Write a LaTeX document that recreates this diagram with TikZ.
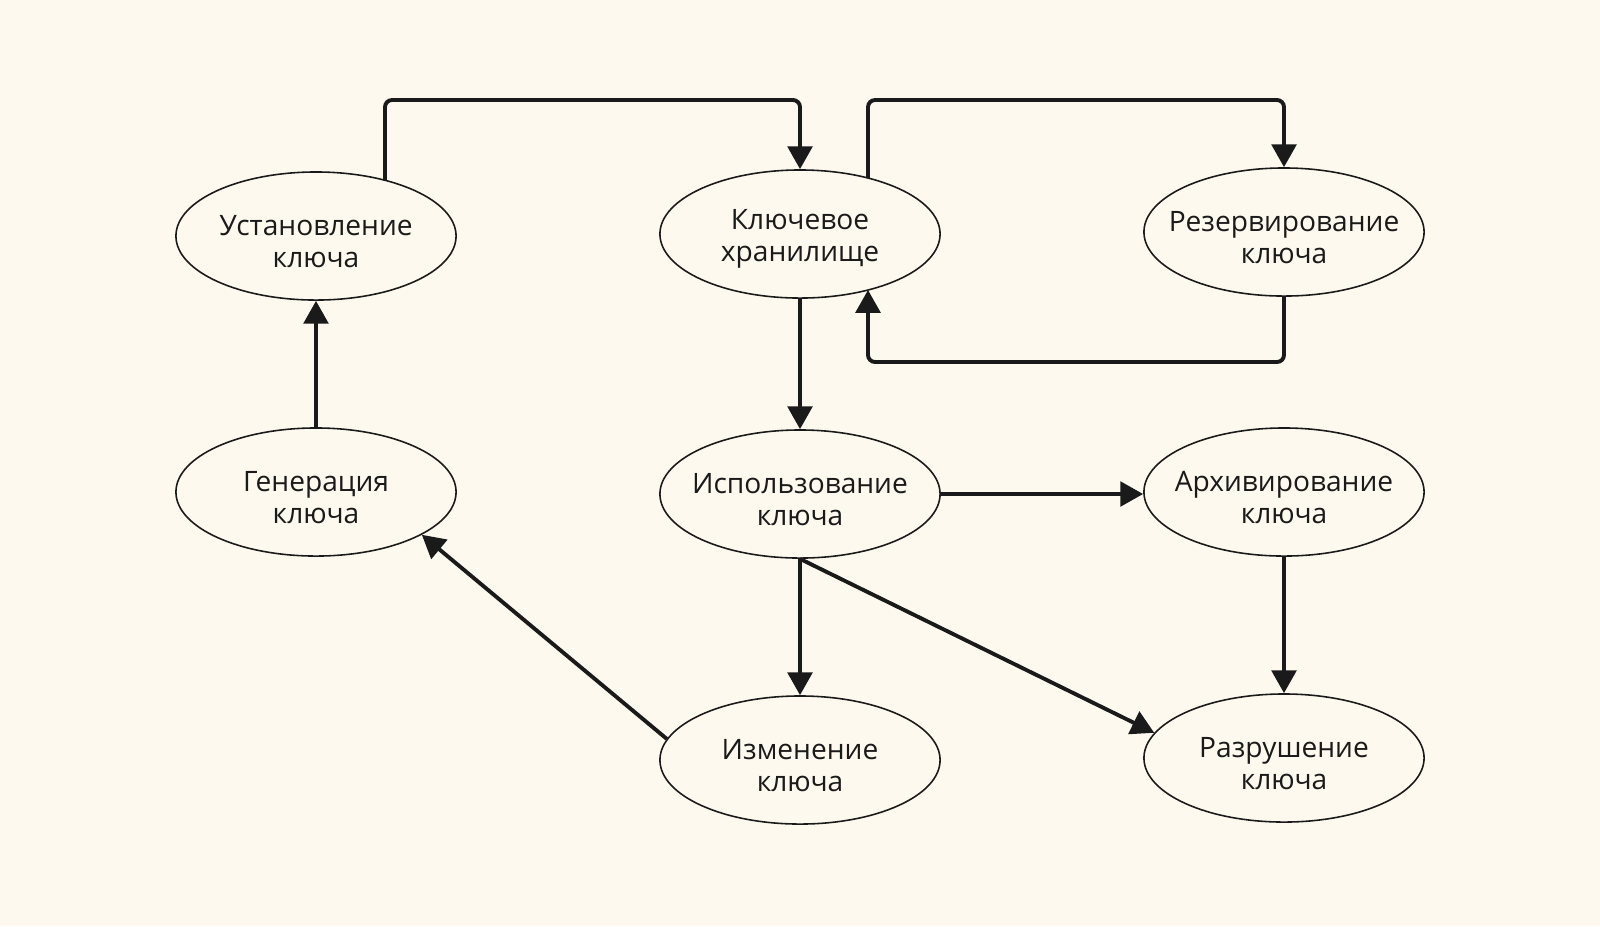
\documentclass[tikz,border=0pt]{standalone}
\usepackage{fontspec}
\setmainfont{Open Sans}
\usetikzlibrary{shapes.geometric,arrows.meta,calc}

\definecolor{paper}{RGB}{253,249,238}
\definecolor{ink}{RGB}{26,26,26}

\tikzset{
  blob/.style={ellipse, draw=ink, line width=0.45pt, fill=paper,
    minimum width=2.8cm, minimum height=1.28cm, inner sep=0pt},
  blobtext/.style={align=center, font=\fontsize{8}{9.1}\selectfont, text=ink, yshift=-1.5pt},
  link/.style={draw=ink, line width=1.1pt, rounded corners=2pt,
    -{Triangle[length=6.5pt,width=7pt]}}
}

\begin{document}
\begin{tikzpicture}[x=0.01cm, y=-0.01cm]

\fill[paper] (0,0) rectangle (1600,926);
\useasboundingbox (0,0) rectangle (1600,926);

 \foreach \n/\x/\y/\t in {ust/316/236/{Установление\\ключа},
                          klch/800/234/{Ключевое\\хранилище},
                          rez/1284/232/{Резервирование\\ключа},
                          gen/316/492/{Генерация\\ключа},
                          isp/800/494/{Использование\\ключа},
                          arh/1284/492/{Архивирование\\ключа},
                          izm/800/760/{Изменение\\ключа},
                          razr/1284/758/{Разрушение\\ключа}}{%
     \node[blob, label={[blobtext]center:\t}] (\n) at (\x,\y) {};
 }

  \draw[link] ($(ust.center)+(69,{-64*sqrt(1-(69/140)^2)})$) |- (klch.north |- 0,100) -- (klch.north);
  \draw[link] ($(klch.center)+(68,{-64*sqrt(1-(68/140)^2)})$) |- (rez.north |- 0,100) -- (rez.north);
  \draw[link] (rez.south) |- (868,362) -- ($(klch.center)+(68,{64*sqrt(1-(68/140)^2)})$);

  \draw[link] (klch.south) -- (isp.north);
  \draw[link] (gen.north) -- (ust.south);
  \draw[link] (isp.east) -- (isp.east -| arh.west);
  \draw[link] (arh.south) -- (razr.north);
  \draw[link] (isp.south) -- (izm.north);
  \draw[link] (isp.south) -- (razr.169);
  \draw[link] (izm.171) -- (gen.-22);

\end{tikzpicture}
\end{document}
